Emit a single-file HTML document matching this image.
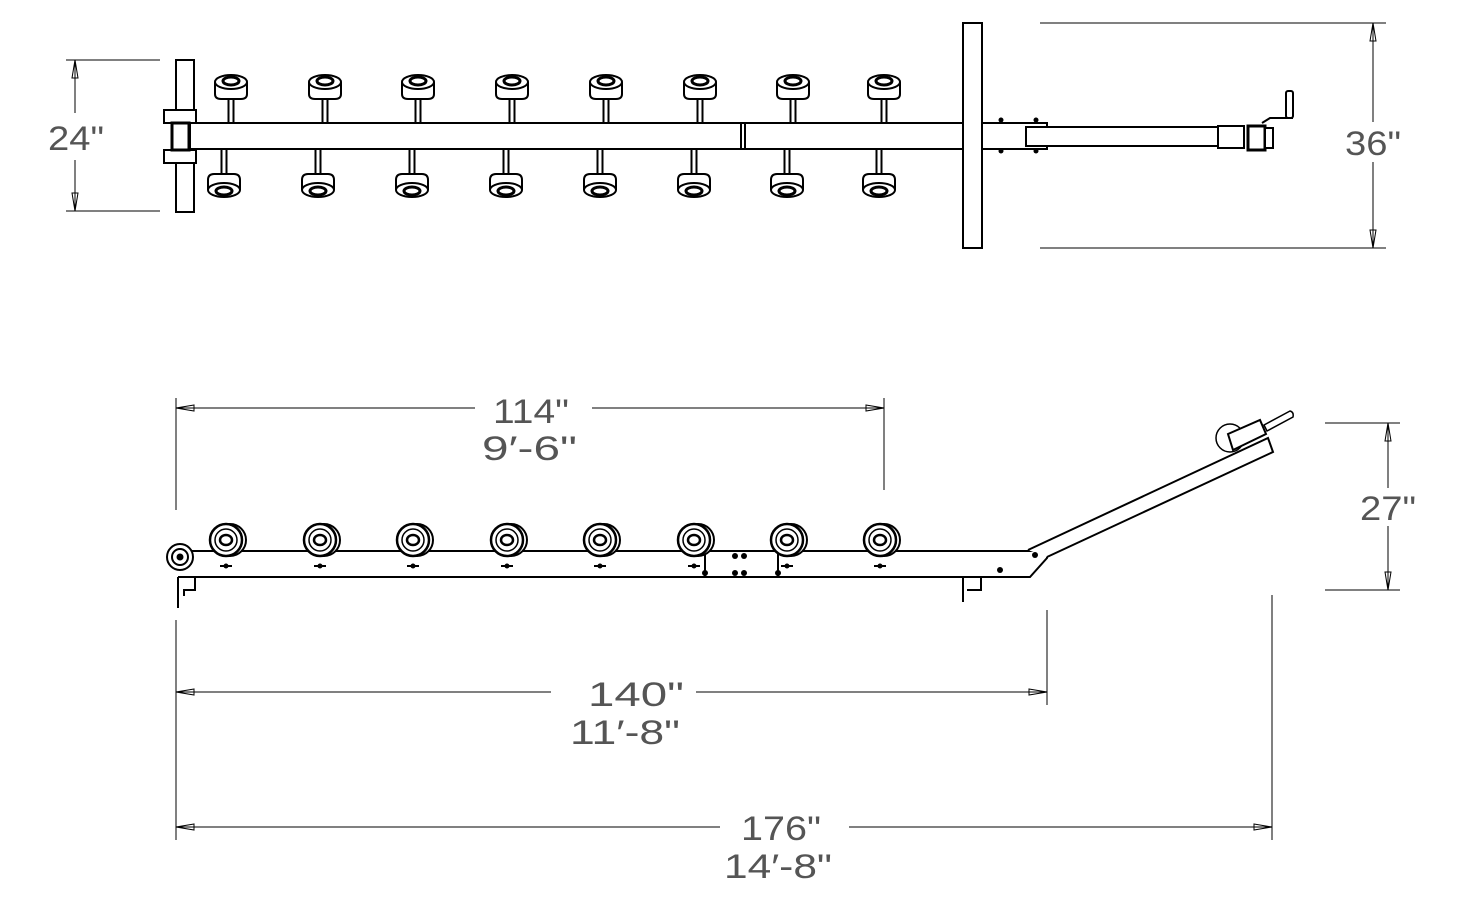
<!DOCTYPE html>
<html><head><meta charset="utf-8"><style>
html,body{margin:0;padding:0;background:#fff;}
svg{display:block;}
text{font-family:"Liberation Sans",sans-serif;fill:#555;font-size:34px;font-weight:normal;}
</style></head><body>
<svg width="1474" height="905" viewBox="0 0 1474 905" xmlns="http://www.w3.org/2000/svg">
<defs>
<g id="ru" fill="#fff" stroke="#000" stroke-width="2">
  <rect x="-2.5" y="96" width="5" height="27"/>
  <path d="M-16,82 L-16,94 Q-16,99 -10,99 L10,99 Q16,99 16,94 L16,82"/>
  <ellipse cx="0" cy="82" rx="16" ry="7"/>
  <ellipse cx="0" cy="81" rx="8" ry="4" stroke-width="3"/>
</g>
<g id="rl" fill="#fff" stroke="#000" stroke-width="2">
  <rect x="-2.5" y="149" width="5" height="27"/>
  <path d="M-16,190 L-16,180 Q-16,174 -10,174 L10,174 Q16,174 16,180 L16,190"/>
  <ellipse cx="0" cy="190" rx="16" ry="7"/>
  <ellipse cx="0" cy="191" rx="8" ry="4" stroke-width="3"/>
</g>
<g id="rs" fill="#fff" stroke="#000">
  <circle cx="4" cy="0" r="16" stroke-width="2"/>
  <circle cx="0" cy="0" r="16" stroke-width="2.5"/>
  <circle cx="0" cy="0" r="11" stroke-width="1.5"/>
  <ellipse cx="0" cy="0" rx="6" ry="5" stroke-width="2.5"/>
  <circle cx="0" cy="26" r="2.5" fill="#000" stroke="none"/>
  <line x1="-6" y1="26" x2="6" y2="26" stroke-width="2"/>
</g>
</defs>

<!-- TOP VIEW -->
<g fill="#fff" stroke="#000" stroke-width="2">
  <rect x="176" y="60" width="18" height="152"/>
  <rect x="190" y="123" width="857" height="26"/>
  <rect x="1026" y="127" width="193" height="19"/>
  <rect x="963" y="23" width="19" height="225"/>
  <rect x="164" y="110" width="32" height="13"/>
  <rect x="164" y="150" width="32" height="13"/>
  <rect x="172" y="123" width="17" height="27" fill="#fff" stroke-width="3"/>
  <line x1="741" y1="123" x2="741" y2="149"/>
  <line x1="745" y1="123" x2="745" y2="149"/>
  <rect x="1218" y="126" width="26" height="22"/>
  <rect x="1248" y="126" width="17" height="24" stroke-width="3"/>
  <rect x="1265" y="128" width="8" height="20"/>
  <rect x="1286" y="91" width="7" height="27" rx="2"/>
  <path d="M1262,123 L1270,118 L1293,118" fill="none"/>
</g>
<g fill="#000">
  <circle cx="1001" cy="120" r="2.5"/><circle cx="1036" cy="120" r="2.5"/>
  <circle cx="1001" cy="151" r="2.5"/><circle cx="1036" cy="151" r="2.5"/>
</g>
<use href="#ru" x="231"/><use href="#ru" x="325"/><use href="#ru" x="418"/><use href="#ru" x="512"/>
<use href="#ru" x="606"/><use href="#ru" x="700"/><use href="#ru" x="793"/><use href="#ru" x="884"/>
<use href="#rl" x="224"/><use href="#rl" x="318"/><use href="#rl" x="412"/><use href="#rl" x="506"/>
<use href="#rl" x="600"/><use href="#rl" x="694"/><use href="#rl" x="787"/><use href="#rl" x="879"/>

<!-- top dims -->
<g stroke="#000" stroke-width="1" fill="none">
  <line x1="66" y1="60" x2="160" y2="60"/><line x1="66" y1="211" x2="160" y2="211"/>
  <line x1="75" y1="60" x2="75" y2="113"/><line x1="75" y1="160" x2="75" y2="211"/>
  <path d="M72,78 L75,60 L78,78 Z"/><path d="M72,193 L75,211 L78,193 Z"/>
  <line x1="1040" y1="23" x2="1386" y2="23"/><line x1="1040" y1="248" x2="1386" y2="248"/>
  <line x1="1373" y1="23" x2="1373" y2="122"/><line x1="1373" y1="162" x2="1373" y2="248"/>
  <path d="M1370,41 L1373,23 L1376,41 Z"/><path d="M1370,230 L1373,248 L1376,230 Z"/>
</g>
<text x="48" y="150" textLength="56" lengthAdjust="spacingAndGlyphs">24"</text>
<text x="1345" y="155" textLength="56" lengthAdjust="spacingAndGlyphs">36"</text>

<!-- SIDE VIEW -->
<g fill="#fff" stroke="#000" stroke-width="2">
  <path d="M190,551 L1047,551 L1047,558 L1030,577 L190,577"/>
  <path d="M1028,550 L1268,438 L1273,452 L1047,557"/>
  <path d="M1264,425 L1290,411 Q1294,412 1293,417 L1267,431 Z" stroke-width="1.5"/>
  <circle cx="1230" cy="438" r="14" stroke-width="1.5"/>
  <path d="M1228,434 L1260,420 L1266,434 L1233,450 Z"/>
  <path d="M178,577 L178,608 M178,577 L195,577 L195,590 L184,590 L184,596"/>
  <path d="M963,577 L963,602 M963,577 L981,577 L981,590 L967,590"/>
  <line x1="705" y1="551" x2="705" y2="577"/>
  <line x1="778" y1="551" x2="778" y2="577"/>
</g>
<g fill="#000">
  <circle cx="735" cy="556" r="3"/><circle cx="744" cy="556" r="3"/><circle cx="735" cy="573" r="3"/><circle cx="744" cy="573" r="3"/>
  <circle cx="705" cy="573" r="3"/><circle cx="778" cy="573" r="3"/><circle cx="1000" cy="570" r="3"/><circle cx="1035" cy="555" r="3"/>
</g>
<g fill="#fff" stroke="#000">
  <circle cx="180" cy="557" r="13" stroke-width="2"/>
  <circle cx="180" cy="557" r="8" stroke-width="2"/>
  <circle cx="180" cy="557" r="3" fill="#000"/>
</g>
<use href="#rs" x="226" y="540"/><use href="#rs" x="320" y="540"/><use href="#rs" x="413" y="540"/><use href="#rs" x="507" y="540"/>
<use href="#rs" x="600" y="540"/><use href="#rs" x="694" y="540"/><use href="#rs" x="787" y="540"/><use href="#rs" x="880" y="540"/>

<!-- side dims -->
<g stroke="#000" stroke-width="1" fill="none">
  <line x1="176" y1="398" x2="176" y2="510"/><line x1="884" y1="398" x2="884" y2="490"/>
  <line x1="176" y1="408" x2="475" y2="408"/><line x1="592" y1="408" x2="884" y2="408"/>
  <path d="M194,405 L176,408 L194,411 Z"/><path d="M866,405 L884,408 L866,411 Z"/>
  <line x1="176" y1="620" x2="176" y2="840"/><line x1="1047" y1="610" x2="1047" y2="705"/><line x1="1272" y1="595" x2="1272" y2="840"/>
  <line x1="176" y1="692" x2="551" y2="692"/><line x1="696" y1="692" x2="1047" y2="692"/>
  <path d="M194,689 L176,692 L194,695 Z"/><path d="M1029,689 L1047,692 L1029,695 Z"/>
  <line x1="176" y1="827" x2="720" y2="827"/><line x1="849" y1="827" x2="1272" y2="827"/>
  <path d="M194,824 L176,827 L194,830 Z"/><path d="M1254,824 L1272,827 L1254,830 Z"/>
  <line x1="1325" y1="423" x2="1400" y2="423"/><line x1="1325" y1="590" x2="1400" y2="590"/>
  <line x1="1388" y1="423" x2="1388" y2="488"/><line x1="1388" y1="526" x2="1388" y2="590"/>
  <path d="M1385,441 L1388,423 L1391,441 Z"/><path d="M1385,572 L1388,590 L1391,572 Z"/>
</g>
<text x="493" y="423" textLength="76" lengthAdjust="spacingAndGlyphs">114"</text>
<text x="482" y="460" textLength="95" lengthAdjust="spacingAndGlyphs">9′-6"</text>
<text x="588" y="706" textLength="96" lengthAdjust="spacingAndGlyphs">140"</text>
<text x="570" y="744" textLength="110" lengthAdjust="spacingAndGlyphs">11′-8"</text>
<text x="741" y="840" textLength="80" lengthAdjust="spacingAndGlyphs">176"</text>
<text x="724" y="878" textLength="108" lengthAdjust="spacingAndGlyphs">14′-8"</text>
<text x="1360" y="520" textLength="56" lengthAdjust="spacingAndGlyphs">27"</text>
</svg>
</body></html>
